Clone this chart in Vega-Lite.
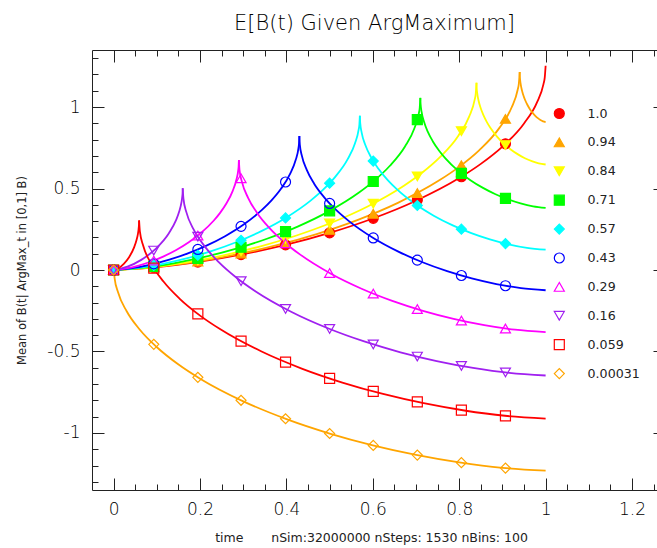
{
  "$schema": "https://vega.github.io/schema/vega-lite/v6.json",
  "width": 573,
  "height": 440,
  "autosize": "none",
  "padding": {"left": 92, "top": 50, "right": -8, "bottom": 58},
  "background": "white",
  "config": {"view": {"stroke": null}},
  "title": {"text": "E[B(t) Given ArgMaximum]", "font": "DejaVu Sans", "fontSize": 21, "fontWeight": 200, "color": "#000", "anchor": "middle", "frame": "group", "offset": 20, "baseline": "alphabetic", "dx": -4, "dy": 22},
  "datasets": {
    "lines": [
      {"s":"1.0","g":"1.0a","t":0,"v":0},{"s":"1.0","g":"1.0a","t":0.1,"v":0.0174},{"s":"1.0","g":"1.0a","t":0.2,"v":0.0508},{"s":"1.0","g":"1.0a","t":0.3,"v":0.0968},{"s":"1.0","g":"1.0a","t":0.4,"v":0.1554},{"s":"1.0","g":"1.0a","t":0.5,"v":0.2277},{"s":"1.0","g":"1.0a","t":0.6,"v":0.3161},{"s":"1.0","g":"1.0a","t":0.7,"v":0.4252},{"s":"1.0","g":"1.0a","t":0.8,"v":0.5642},{"s":"1.0","g":"1.0a","t":0.85,"v":0.6511},{"s":"1.0","g":"1.0a","t":0.9,"v":0.7572},{"s":"1.0","g":"1.0a","t":0.95,"v":0.8995},{"s":"1.0","g":"1.0a","t":0.98,"v":1.0284},{"s":"1.0","g":"1.0a","t":0.995,"v":1.1406},{"s":"1.0","g":"1.0a","t":0.998,"v":1.182},{"s":"1.0","g":"1.0a","t":1,"v":1.2533},
      {"s":"0.94","g":"0.94a","t":0,"v":0},{"s":"0.94","g":"0.94a","t":0.094,"v":0.0168},{"s":"0.94","g":"0.94a","t":0.188,"v":0.0492},{"s":"0.94","g":"0.94a","t":0.282,"v":0.0939},{"s":"0.94","g":"0.94a","t":0.376,"v":0.1507},{"s":"0.94","g":"0.94a","t":0.47,"v":0.2208},{"s":"0.94","g":"0.94a","t":0.564,"v":0.3065},{"s":"0.94","g":"0.94a","t":0.658,"v":0.4122},{"s":"0.94","g":"0.94a","t":0.752,"v":0.547},{"s":"0.94","g":"0.94a","t":0.799,"v":0.6313},{"s":"0.94","g":"0.94a","t":0.846,"v":0.7342},{"s":"0.94","g":"0.94a","t":0.893,"v":0.8721},{"s":"0.94","g":"0.94a","t":0.9212,"v":0.9971},{"s":"0.94","g":"0.94a","t":0.9353,"v":1.1058},{"s":"0.94","g":"0.94a","t":0.9381,"v":1.146},{"s":"0.94","g":"0.94a","t":0.94,"v":1.2151},
      {"s":"0.94","g":"0.94b","t":0.94,"v":1.2151},{"s":"0.94","g":"0.94b","t":0.9401,"v":1.1977},{"s":"0.94","g":"0.94b","t":0.9406,"v":1.1761},{"s":"0.94","g":"0.94b","t":0.9418,"v":1.1478},{"s":"0.94","g":"0.94b","t":0.9436,"v":1.1203},{"s":"0.94","g":"0.94b","t":0.946,"v":1.0936},{"s":"0.94","g":"0.94b","t":0.949,"v":1.0676},{"s":"0.94","g":"0.94b","t":0.952,"v":1.0463},{"s":"0.94","g":"0.94b","t":0.958,"v":1.0123},{"s":"0.94","g":"0.94b","t":0.964,"v":0.9856},{"s":"0.94","g":"0.94b","t":0.97,"v":0.9639},{"s":"0.94","g":"0.94b","t":0.976,"v":0.9462},{"s":"0.94","g":"0.94b","t":0.982,"v":0.9319},{"s":"0.94","g":"0.94b","t":0.988,"v":0.9206},{"s":"0.94","g":"0.94b","t":0.994,"v":0.9124},{"s":"0.94","g":"0.94b","t":1,"v":0.9081},
      {"s":"0.84","g":"0.84a","t":0,"v":0},{"s":"0.84","g":"0.84a","t":0.084,"v":0.0159},{"s":"0.84","g":"0.84a","t":0.168,"v":0.0465},{"s":"0.84","g":"0.84a","t":0.252,"v":0.0888},{"s":"0.84","g":"0.84a","t":0.336,"v":0.1425},{"s":"0.84","g":"0.84a","t":0.42,"v":0.2087},{"s":"0.84","g":"0.84a","t":0.504,"v":0.2897},{"s":"0.84","g":"0.84a","t":0.588,"v":0.3897},{"s":"0.84","g":"0.84a","t":0.672,"v":0.5171},{"s":"0.84","g":"0.84a","t":0.714,"v":0.5967},{"s":"0.84","g":"0.84a","t":0.756,"v":0.694},{"s":"0.84","g":"0.84a","t":0.798,"v":0.8244},{"s":"0.84","g":"0.84a","t":0.8232,"v":0.9425},{"s":"0.84","g":"0.84a","t":0.8358,"v":1.0453},{"s":"0.84","g":"0.84a","t":0.8383,"v":1.0833},{"s":"0.84","g":"0.84a","t":0.84,"v":1.1487},
      {"s":"0.84","g":"0.84b","t":0.84,"v":1.1487},{"s":"0.84","g":"0.84b","t":0.8403,"v":1.1201},{"s":"0.84","g":"0.84b","t":0.8416,"v":1.085},{"s":"0.84","g":"0.84b","t":0.8448,"v":1.0387},{"s":"0.84","g":"0.84b","t":0.8496,"v":0.9939},{"s":"0.84","g":"0.84b","t":0.856,"v":0.9502},{"s":"0.84","g":"0.84b","t":0.864,"v":0.9078},{"s":"0.84","g":"0.84b","t":0.872,"v":0.873},{"s":"0.84","g":"0.84b","t":0.888,"v":0.8174},{"s":"0.84","g":"0.84b","t":0.904,"v":0.7738},{"s":"0.84","g":"0.84b","t":0.92,"v":0.7384},{"s":"0.84","g":"0.84b","t":0.936,"v":0.7095},{"s":"0.84","g":"0.84b","t":0.952,"v":0.6861},{"s":"0.84","g":"0.84b","t":0.968,"v":0.6677},{"s":"0.84","g":"0.84b","t":0.984,"v":0.6543},{"s":"0.84","g":"0.84b","t":1,"v":0.6473},
      {"s":"0.71","g":"0.71a","t":0,"v":0},{"s":"0.71","g":"0.71a","t":0.071,"v":0.0146},{"s":"0.71","g":"0.71a","t":0.142,"v":0.0428},{"s":"0.71","g":"0.71a","t":0.213,"v":0.0816},{"s":"0.71","g":"0.71a","t":0.284,"v":0.131},{"s":"0.71","g":"0.71a","t":0.355,"v":0.1919},{"s":"0.71","g":"0.71a","t":0.426,"v":0.2664},{"s":"0.71","g":"0.71a","t":0.497,"v":0.3583},{"s":"0.71","g":"0.71a","t":0.568,"v":0.4754},{"s":"0.71","g":"0.71a","t":0.6035,"v":0.5486},{"s":"0.71","g":"0.71a","t":0.639,"v":0.6381},{"s":"0.71","g":"0.71a","t":0.6745,"v":0.7579},{"s":"0.71","g":"0.71a","t":0.6958,"v":0.8665},{"s":"0.71","g":"0.71a","t":0.7065,"v":0.9611},{"s":"0.71","g":"0.71a","t":0.7086,"v":0.9959},{"s":"0.71","g":"0.71a","t":0.71,"v":1.0561},
      {"s":"0.71","g":"0.71b","t":0.71,"v":1.0561},{"s":"0.71","g":"0.71b","t":0.7106,"v":1.0176},{"s":"0.71","g":"0.71b","t":0.7129,"v":0.9703},{"s":"0.71","g":"0.71b","t":0.7187,"v":0.908},{"s":"0.71","g":"0.71b","t":0.7274,"v":0.8477},{"s":"0.71","g":"0.71b","t":0.739,"v":0.7889},{"s":"0.71","g":"0.71b","t":0.7535,"v":0.7318},{"s":"0.71","g":"0.71b","t":0.768,"v":0.685},{"s":"0.71","g":"0.71b","t":0.797,"v":0.6101},{"s":"0.71","g":"0.71b","t":0.826,"v":0.5514},{"s":"0.71","g":"0.71b","t":0.855,"v":0.5038},{"s":"0.71","g":"0.71b","t":0.884,"v":0.4648},{"s":"0.71","g":"0.71b","t":0.913,"v":0.4333},{"s":"0.71","g":"0.71b","t":0.942,"v":0.4085},{"s":"0.71","g":"0.71b","t":0.971,"v":0.3905},{"s":"0.71","g":"0.71b","t":1,"v":0.3811},
      {"s":"0.57","g":"0.57a","t":0,"v":0},{"s":"0.57","g":"0.57a","t":0.057,"v":0.0131},{"s":"0.57","g":"0.57a","t":0.114,"v":0.0383},{"s":"0.57","g":"0.57a","t":0.171,"v":0.0731},{"s":"0.57","g":"0.57a","t":0.228,"v":0.1174},{"s":"0.57","g":"0.57a","t":0.285,"v":0.1719},{"s":"0.57","g":"0.57a","t":0.342,"v":0.2387},{"s":"0.57","g":"0.57a","t":0.399,"v":0.321},{"s":"0.57","g":"0.57a","t":0.456,"v":0.426},{"s":"0.57","g":"0.57a","t":0.4845,"v":0.4916},{"s":"0.57","g":"0.57a","t":0.513,"v":0.5717},{"s":"0.57","g":"0.57a","t":0.5415,"v":0.6791},{"s":"0.57","g":"0.57a","t":0.5586,"v":0.7764},{"s":"0.57","g":"0.57a","t":0.5672,"v":0.8611},{"s":"0.57","g":"0.57a","t":0.5689,"v":0.8924},{"s":"0.57","g":"0.57a","t":0.57,"v":0.9462},
      {"s":"0.57","g":"0.57b","t":0.57,"v":0.9462},{"s":"0.57","g":"0.57b","t":0.5709,"v":0.8994},{"s":"0.57","g":"0.57b","t":0.5743,"v":0.8418},{"s":"0.57","g":"0.57b","t":0.5829,"v":0.7659},{"s":"0.57","g":"0.57b","t":0.5958,"v":0.6925},{"s":"0.57","g":"0.57b","t":0.613,"v":0.6209},{"s":"0.57","g":"0.57b","t":0.6345,"v":0.5513},{"s":"0.57","g":"0.57b","t":0.656,"v":0.4944},{"s":"0.57","g":"0.57b","t":0.699,"v":0.4032},{"s":"0.57","g":"0.57b","t":0.742,"v":0.3317},{"s":"0.57","g":"0.57b","t":0.785,"v":0.2737},{"s":"0.57","g":"0.57b","t":0.828,"v":0.2263},{"s":"0.57","g":"0.57b","t":0.871,"v":0.1879},{"s":"0.57","g":"0.57b","t":0.914,"v":0.1577},{"s":"0.57","g":"0.57b","t":0.957,"v":0.1358},{"s":"0.57","g":"0.57b","t":1,"v":0.1244},
      {"s":"0.43","g":"0.43a","t":0,"v":0},{"s":"0.43","g":"0.43a","t":0.043,"v":0.0114},{"s":"0.43","g":"0.43a","t":0.086,"v":0.0333},{"s":"0.43","g":"0.43a","t":0.129,"v":0.0635},{"s":"0.43","g":"0.43a","t":0.172,"v":0.1019},{"s":"0.43","g":"0.43a","t":0.215,"v":0.1493},{"s":"0.43","g":"0.43a","t":0.258,"v":0.2073},{"s":"0.43","g":"0.43a","t":0.301,"v":0.2788},{"s":"0.43","g":"0.43a","t":0.344,"v":0.37},{"s":"0.43","g":"0.43a","t":0.3655,"v":0.427},{"s":"0.43","g":"0.43a","t":0.387,"v":0.4965},{"s":"0.43","g":"0.43a","t":0.4085,"v":0.5898},{"s":"0.43","g":"0.43a","t":0.4214,"v":0.6744},{"s":"0.43","g":"0.43a","t":0.4279,"v":0.7479},{"s":"0.43","g":"0.43a","t":0.4291,"v":0.7751},{"s":"0.43","g":"0.43a","t":0.43,"v":0.8219},
      {"s":"0.43","g":"0.43b","t":0.43,"v":0.8219},{"s":"0.43","g":"0.43b","t":0.4311,"v":0.768},{"s":"0.43","g":"0.43b","t":0.4357,"v":0.7016},{"s":"0.43","g":"0.43b","t":0.4471,"v":0.6142},{"s":"0.43","g":"0.43b","t":0.4642,"v":0.5297},{"s":"0.43","g":"0.43b","t":0.487,"v":0.4473},{"s":"0.43","g":"0.43b","t":0.5155,"v":0.3672},{"s":"0.43","g":"0.43b","t":0.544,"v":0.3016},{"s":"0.43","g":"0.43b","t":0.601,"v":0.1966},{"s":"0.43","g":"0.43b","t":0.658,"v":0.1143},{"s":"0.43","g":"0.43b","t":0.715,"v":0.0475},{"s":"0.43","g":"0.43b","t":0.772,"v":-0.007},{"s":"0.43","g":"0.43b","t":0.829,"v":-0.0513},{"s":"0.43","g":"0.43b","t":0.886,"v":-0.086},{"s":"0.43","g":"0.43b","t":0.943,"v":-0.1113},{"s":"0.43","g":"0.43b","t":1,"v":-0.1244},
      {"s":"0.29","g":"0.29a","t":0,"v":0},{"s":"0.29","g":"0.29a","t":0.029,"v":0.0093},{"s":"0.29","g":"0.29a","t":0.058,"v":0.0273},{"s":"0.29","g":"0.29a","t":0.087,"v":0.0522},{"s":"0.29","g":"0.29a","t":0.116,"v":0.0837},{"s":"0.29","g":"0.29a","t":0.145,"v":0.1226},{"s":"0.29","g":"0.29a","t":0.174,"v":0.1702},{"s":"0.29","g":"0.29a","t":0.203,"v":0.229},{"s":"0.29","g":"0.29a","t":0.232,"v":0.3038},{"s":"0.29","g":"0.29a","t":0.2465,"v":0.3506},{"s":"0.29","g":"0.29a","t":0.261,"v":0.4078},{"s":"0.29","g":"0.29a","t":0.2755,"v":0.4844},{"s":"0.29","g":"0.29a","t":0.2842,"v":0.5538},{"s":"0.29","g":"0.29a","t":0.2886,"v":0.6142},{"s":"0.29","g":"0.29a","t":0.2894,"v":0.6365},{"s":"0.29","g":"0.29a","t":0.29,"v":0.6749},
      {"s":"0.29","g":"0.29b","t":0.29,"v":0.6749},{"s":"0.29","g":"0.29b","t":0.2914,"v":0.6148},{"s":"0.29","g":"0.29b","t":0.2971,"v":0.5407},{"s":"0.29","g":"0.29b","t":0.3113,"v":0.4432},{"s":"0.29","g":"0.29b","t":0.3326,"v":0.3489},{"s":"0.29","g":"0.29b","t":0.361,"v":0.2569},{"s":"0.29","g":"0.29b","t":0.3965,"v":0.1675},{"s":"0.29","g":"0.29b","t":0.432,"v":0.0943},{"s":"0.29","g":"0.29b","t":0.503,"v":-0.0229},{"s":"0.29","g":"0.29b","t":0.574,"v":-0.1148},{"s":"0.29","g":"0.29b","t":0.645,"v":-0.1893},{"s":"0.29","g":"0.29b","t":0.716,"v":-0.2502},{"s":"0.29","g":"0.29b","t":0.787,"v":-0.2995},{"s":"0.29","g":"0.29b","t":0.858,"v":-0.3383},{"s":"0.29","g":"0.29b","t":0.929,"v":-0.3665},{"s":"0.29","g":"0.29b","t":1,"v":-0.3811},
      {"s":"0.16","g":"0.16a","t":0,"v":0},{"s":"0.16","g":"0.16a","t":0.032,"v":0.0203},{"s":"0.16","g":"0.16a","t":0.064,"v":0.0622},{"s":"0.16","g":"0.16a","t":0.096,"v":0.1264},{"s":"0.16","g":"0.16a","t":0.128,"v":0.2257},{"s":"0.16","g":"0.16a","t":0.144,"v":0.3029},{"s":"0.16","g":"0.16a","t":0.152,"v":0.3598},{"s":"0.16","g":"0.16a","t":0.1568,"v":0.4114},{"s":"0.16","g":"0.16a","t":0.1592,"v":0.4562},{"s":"0.16","g":"0.16a","t":0.1597,"v":0.4728},{"s":"0.16","g":"0.16a","t":0.16,"v":0.5013},
      {"s":"0.16","g":"0.16b","t":0.16,"v":0.5013},{"s":"0.16","g":"0.16b","t":0.1617,"v":0.4359},{"s":"0.16","g":"0.16b","t":0.1684,"v":0.3553},{"s":"0.16","g":"0.16b","t":0.1852,"v":0.2493},{"s":"0.16","g":"0.16b","t":0.2104,"v":0.1467},{"s":"0.16","g":"0.16b","t":0.244,"v":0.0467},{"s":"0.16","g":"0.16b","t":0.286,"v":-0.0506},{"s":"0.16","g":"0.16b","t":0.328,"v":-0.1302},{"s":"0.16","g":"0.16b","t":0.412,"v":-0.2577},{"s":"0.16","g":"0.16b","t":0.496,"v":-0.3576},{"s":"0.16","g":"0.16b","t":0.58,"v":-0.4386},{"s":"0.16","g":"0.16b","t":0.664,"v":-0.5049},{"s":"0.16","g":"0.16b","t":0.748,"v":-0.5586},{"s":"0.16","g":"0.16b","t":0.832,"v":-0.6008},{"s":"0.16","g":"0.16b","t":0.916,"v":-0.6314},{"s":"0.16","g":"0.16b","t":1,"v":-0.6473},
      {"s":"0.059","g":"0.059a","t":0,"v":0},{"s":"0.059","g":"0.059a","t":0.0118,"v":0.0123},{"s":"0.059","g":"0.059a","t":0.0236,"v":0.0378},{"s":"0.059","g":"0.059a","t":0.0354,"v":0.0768},{"s":"0.059","g":"0.059a","t":0.0472,"v":0.137},{"s":"0.059","g":"0.059a","t":0.0531,"v":0.1839},{"s":"0.059","g":"0.059a","t":0.0561,"v":0.2185},{"s":"0.059","g":"0.059a","t":0.0578,"v":0.2498},{"s":"0.059","g":"0.059a","t":0.0587,"v":0.277},{"s":"0.059","g":"0.059a","t":0.0589,"v":0.2871},{"s":"0.059","g":"0.059a","t":0.059,"v":0.3044},
      {"s":"0.059","g":"0.059b","t":0.059,"v":0.3044},{"s":"0.059","g":"0.059b","t":0.0609,"v":0.2352},{"s":"0.059","g":"0.059b","t":0.0684,"v":0.1499},{"s":"0.059","g":"0.059b","t":0.0872,"v":0.0377},{"s":"0.059","g":"0.059b","t":0.1155,"v":-0.0709},{"s":"0.059","g":"0.059b","t":0.1531,"v":-0.1768},{"s":"0.059","g":"0.059b","t":0.2002,"v":-0.2798},{"s":"0.059","g":"0.059b","t":0.2472,"v":-0.364},{"s":"0.059","g":"0.059b","t":0.3413,"v":-0.4989},{"s":"0.059","g":"0.059b","t":0.4354,"v":-0.6047},{"s":"0.059","g":"0.059b","t":0.5295,"v":-0.6905},{"s":"0.059","g":"0.059b","t":0.6236,"v":-0.7606},{"s":"0.059","g":"0.059b","t":0.7177,"v":-0.8174},{"s":"0.059","g":"0.059b","t":0.8118,"v":-0.8621},{"s":"0.059","g":"0.059b","t":0.9059,"v":-0.8945},{"s":"0.059","g":"0.059b","t":1,"v":-0.9114},
      {"s":"0.00031","g":"0.00031a","t":0,"v":0},{"s":"0.00031","g":"0.00031a","t":0.00031,"v":0.0221},
      {"s":"0.00031","g":"0.00031b","t":0.00031,"v":0.0221},{"s":"0.00031","g":"0.00031b","t":0.0023,"v":-0.0493},{"s":"0.00031","g":"0.00031b","t":0.0103,"v":-0.1372},{"s":"0.00031","g":"0.00031b","t":0.0303,"v":-0.2529},{"s":"0.00031","g":"0.00031b","t":0.0603,"v":-0.3648},{"s":"0.00031","g":"0.00031b","t":0.1003,"v":-0.4739},{"s":"0.00031","g":"0.00031b","t":0.1503,"v":-0.5801},{"s":"0.00031","g":"0.00031b","t":0.2002,"v":-0.6669},{"s":"0.00031","g":"0.00031b","t":0.3002,"v":-0.8059},{"s":"0.00031","g":"0.00031b","t":0.4002,"v":-0.915},{"s":"0.00031","g":"0.00031b","t":0.5002,"v":-1.0034},{"s":"0.00031","g":"0.00031b","t":0.6001,"v":-1.0756},{"s":"0.00031","g":"0.00031b","t":0.7001,"v":-1.1342},{"s":"0.00031","g":"0.00031b","t":0.8001,"v":-1.1803},{"s":"0.00031","g":"0.00031b","t":0.9,"v":-1.2137},{"s":"0.00031","g":"0.00031b","t":1,"v":-1.2311}
    ],
    "pts": [
      {"s":"1.0","t":0,"v":0},{"s":"1.0","t":0.093,"v":0.0155},{"s":"1.0","t":0.195,"v":0.0488},{"s":"1.0","t":0.295,"v":0.0943},{"s":"1.0","t":0.398,"v":0.1541},{"s":"1.0","t":0.5,"v":0.2277},{"s":"1.0","t":0.601,"v":0.3171},{"s":"1.0","t":0.703,"v":0.4289},{"s":"1.0","t":0.805,"v":0.5723},{"s":"1.0","t":0.907,"v":0.7743},
      {"s":"0.94","t":0,"v":0},{"s":"0.94","t":0.093,"v":0.0166},{"s":"0.94","t":0.195,"v":0.0522},{"s":"0.94","t":0.295,"v":0.101},{"s":"0.94","t":0.398,"v":0.1659},{"s":"0.94","t":0.5,"v":0.2463},{"s":"0.94","t":0.601,"v":0.3454},{"s":"0.94","t":0.703,"v":0.4723},{"s":"0.94","t":0.805,"v":0.6432},{"s":"0.94","t":0.907,"v":0.927},
      {"s":"0.84","t":0,"v":0},{"s":"0.84","t":0.093,"v":0.0186},{"s":"0.84","t":0.195,"v":0.0589},{"s":"0.84","t":0.295,"v":0.1148},{"s":"0.84","t":0.398,"v":0.19},{"s":"0.84","t":0.5,"v":0.2855},{"s":"0.84","t":0.601,"v":0.4073},{"s":"0.84","t":0.703,"v":0.5745},{"s":"0.84","t":0.805,"v":0.8522},{"s":"0.84","t":0.907,"v":0.7666},
      {"s":"0.71","t":0,"v":0},{"s":"0.71","t":0.093,"v":0.0221},{"s":"0.71","t":0.195,"v":0.0708},{"s":"0.71","t":0.295,"v":0.1396},{"s":"0.71","t":0.398,"v":0.2352},{"s":"0.71","t":0.5,"v":0.3626},{"s":"0.71","t":0.601,"v":0.543},{"s":"0.71","t":0.703,"v":0.9228},{"s":"0.71","t":0.805,"v":0.5926},{"s":"0.71","t":0.907,"v":0.4393},
      {"s":"0.57","t":0,"v":0},{"s":"0.57","t":0.093,"v":0.0279},{"s":"0.57","t":0.195,"v":0.0906},{"s":"0.57","t":0.295,"v":0.1827},{"s":"0.57","t":0.398,"v":0.3194},{"s":"0.57","t":0.5,"v":0.5328},{"s":"0.57","t":0.601,"v":0.6687},{"s":"0.57","t":0.703,"v":0.3958},{"s":"0.57","t":0.805,"v":0.2505},{"s":"0.57","t":0.907,"v":0.162},
      {"s":"0.43","t":0,"v":0},{"s":"0.43","t":0.093,"v":0.0377},{"s":"0.43","t":0.195,"v":0.1261},{"s":"0.43","t":0.295,"v":0.2678},{"s":"0.43","t":0.398,"v":0.54},{"s":"0.43","t":0.5,"v":0.4085},{"s":"0.43","t":0.601,"v":0.1966},{"s":"0.43","t":0.703,"v":0.0605},{"s":"0.43","t":0.805,"v":-0.0338},{"s":"0.43","t":0.907,"v":-0.0965},
      {"s":"0.29","t":0,"v":0},{"s":"0.29","t":0.093,"v":0.0581},{"s":"0.29","t":0.195,"v":0.2114},{"s":"0.29","t":0.295,"v":0.5622},{"s":"0.29","t":0.398,"v":0.1641},{"s":"0.29","t":0.5,"v":-0.0185},{"s":"0.29","t":0.601,"v":-0.1449},{"s":"0.29","t":0.703,"v":-0.2399},{"s":"0.29","t":0.805,"v":-0.3104},{"s":"0.29","t":0.907,"v":-0.359},
      {"s":"0.16","t":0,"v":0},{"s":"0.16","t":0.093,"v":0.1193},{"s":"0.16","t":0.195,"v":0.2049},{"s":"0.16","t":0.295,"v":-0.0689},{"s":"0.16","t":0.398,"v":-0.2387},{"s":"0.16","t":0.5,"v":-0.3619},{"s":"0.16","t":0.601,"v":-0.4565},{"s":"0.16","t":0.703,"v":-0.5313},{"s":"0.16","t":0.805,"v":-0.5885},{"s":"0.16","t":0.907,"v":-0.6288},
      {"s":"0.059","t":0,"v":0},{"s":"0.059","t":0.093,"v":0.012},{"s":"0.059","t":0.195,"v":-0.2696},{"s":"0.059","t":0.295,"v":-0.437},{"s":"0.059","t":0.398,"v":-0.5654},{"s":"0.059","t":0.5,"v":-0.6654},{"s":"0.059","t":0.601,"v":-0.745},{"s":"0.059","t":0.703,"v":-0.8093},{"s":"0.059","t":0.805,"v":-0.8593},{"s":"0.059","t":0.907,"v":-0.8948},
      {"s":"0.00031","t":0,"v":0},{"s":"0.00031","t":0.093,"v":-0.4562},{"s":"0.00031","t":0.195,"v":-0.6585},{"s":"0.00031","t":0.295,"v":-0.7995},{"s":"0.00031","t":0.398,"v":-0.9129},{"s":"0.00031","t":0.5,"v":-1.0032},{"s":"0.00031","t":0.601,"v":-1.0762},{"s":"0.00031","t":0.703,"v":-1.1357},{"s":"0.00031","t":0.805,"v":-1.1822},{"s":"0.00031","t":0.907,"v":-1.2155}
    ]
  },
  "layer": [
    {
      "data": {"name": "lines"},
      "mark": {"type": "line", "interpolate": "monotone", "strokeWidth": 1.8},
      "encoding": {
        "x": {"field": "t", "type": "quantitative", "scale": {"domain": [-0.05, 1.2763], "nice": false, "zero": false},
          "axis": {"orient": "bottom", "values": [0,0.05,0.1,0.15,0.2,0.25,0.3,0.35,0.4,0.45,0.5,0.55,0.6,0.65,0.7,0.75,0.8,0.85,0.9,0.95,1,1.05,1.1,1.15,1.2,1.25],
            "grid": false, "tickSize": 0, "tickColor": "#222", "tickWidth": 1, "domainColor": "#222", "domainWidth": 1,
            "labelExpr": "abs(datum.value*5 - round(datum.value*5)) < 0.001 ? format(datum.value, '~g') : ''",
            "labelFont": "DejaVu Sans", "labelFontWeight": 200, "labelFontSize": 17, "labelColor": "#000", "labelPadding": 11, "labelOverlap": false, "labelFlush": false, "labelBound": false,
            "title": "time\u00a0\u00a0\u00a0\u00a0\u00a0\u00a0\u00a0nSim:32000000 nSteps: 1530 nBins: 100",
            "titleFont": "DejaVu Sans", "titleFontSize": 12.5, "titleFontWeight": "normal", "titleColor": "#222", "titleX": 279, "titleY": 47, "titleAlign": "center", "titleBaseline": "middle", "titleAnchor": null,
            "encoding": {"ticks": {"y2": {"condition": {"test": "abs(datum.value*5 - round(datum.value*5)) < 0.001", "value": -12}, "value": -6}}}}},
        "y": {"field": "v", "type": "quantitative", "scale": {"domain": [-1.35, 1.35], "nice": false, "zero": false},
          "axis": {"orient": "left", "values": [-1.3,-1.2,-1.1,-1,-0.9,-0.8,-0.7,-0.6,-0.5,-0.4,-0.3,-0.2,-0.1,0,0.1,0.2,0.3,0.4,0.5,0.6,0.7,0.8,0.9,1,1.1,1.2,1.3],
            "grid": false, "tickSize": 0, "tickColor": "#222", "tickWidth": 1, "domainColor": "#222", "domainWidth": 1,
            "labelExpr": "abs(datum.value*2 - round(datum.value*2)) < 0.001 ? (datum.value < 0 ? '-' + format(-datum.value, '~g') : format(datum.value, '~g')) : ''",
            "labelFont": "DejaVu Sans", "labelFontWeight": 200, "labelFontSize": 17, "labelColor": "#000", "labelPadding": 12, "labelOverlap": false, "labelFlush": false, "labelBound": false,
            "title": "Mean of B(t| ArgMax_t in [0,1] B)",
            "titleFont": "DejaVu Sans", "titleFontSize": 11.5, "titleFontWeight": "normal", "titleColor": "#222", "titleX": -70, "titleY": 220, "titleAngle": -90, "titleAlign": "center", "titleBaseline": "middle", "titleAnchor": null,
            "encoding": {"ticks": {"x2": {"condition": {"test": "abs(datum.value*2 - round(datum.value*2)) < 0.001", "value": 12}, "value": 6}}}}},
        "detail": {"field": "g", "type": "nominal"},
        "stroke": {"field": "s", "type": "nominal",
          "scale": {"domain": ["1.0","0.94","0.84","0.71","0.57","0.43","0.29","0.16","0.059","0.00031"],
                    "range": ["#ff0000","#ffa500","#ffff00","#00ff00","#00ffff","#0000ff","#ff00ff","#a020f0","#ff0000","#ffa500"]},
          "legend": {"title": null, "orient": "none", "legendX": 461, "legendY": 57, "padding": 0, "symbolSize": 100, "symbolStrokeWidth": 1.2, "labelFont": "DejaVu Sans", "labelFontSize": 12.6, "labelColor": "#222", "labelOffset": 22, "rowPadding": 14.9, "clipHeight": 13}}
      }
    },
    {
      "data": {"name": "pts"},
      "mark": {"type": "point", "size": 100, "strokeWidth": 1.2, "opacity": 1},
      "encoding": {
        "x": {"field": "t", "type": "quantitative",
          "axis": {"orient": "top", "values": [0,0.05,0.1,0.15,0.2,0.25,0.3,0.35,0.4,0.45,0.5,0.55,0.6,0.65,0.7,0.75,0.8,0.85,0.9,0.95,1,1.05,1.1,1.15,1.2,1.25],
            "grid": false, "labels": false, "title": null, "tickSize": 0, "tickColor": "#222", "tickWidth": 1, "domainColor": "#222", "domainWidth": 1,
            "encoding": {"ticks": {"y2": {"condition": {"test": "abs(datum.value*5 - round(datum.value*5)) < 0.001", "value": 12}, "value": 6}}}}},
        "y": {"field": "v", "type": "quantitative",
          "axis": {"orient": "right", "values": [-1.3,-1.2,-1.1,-1,-0.9,-0.8,-0.7,-0.6,-0.5,-0.4,-0.3,-0.2,-0.1,0,0.1,0.2,0.3,0.4,0.5,0.6,0.7,0.8,0.9,1,1.1,1.2,1.3],
            "grid": false, "labels": false, "title": null, "tickSize": 0, "tickColor": "#222", "tickWidth": 1, "domainColor": "#222", "domainWidth": 1,
            "encoding": {"ticks": {"x2": {"condition": {"test": "abs(datum.value*2 - round(datum.value*2)) < 0.001", "value": -12}, "value": -6}}}}},
        "shape": {"field": "s", "type": "nominal",
          "scale": {"domain": ["1.0","0.94","0.84","0.71","0.57","0.43","0.29","0.16","0.059","0.00031"],
                    "range": ["circle","triangle-up","triangle-down","square","diamond","circle","triangle-up","triangle-down","square","diamond"]},
          "legend": {"title": null, "orient": "none", "legendX": 461, "legendY": 57, "padding": 0, "symbolSize": 100, "symbolStrokeWidth": 1.2, "labelFont": "DejaVu Sans", "labelFontSize": 12.6, "labelColor": "#222", "labelOffset": 22, "rowPadding": 14.9, "clipHeight": 13}},
        "fill": {"field": "s", "type": "nominal",
          "scale": {"domain": ["1.0","0.94","0.84","0.71","0.57","0.43","0.29","0.16","0.059","0.00031"],
                    "range": ["#ff0000","#ffa500","#ffff00","#00ff00","#00ffff","transparent","transparent","transparent","transparent","transparent"]},
          "legend": {"title": null, "orient": "none", "legendX": 461, "legendY": 57, "padding": 0, "symbolSize": 100, "symbolStrokeWidth": 1.2, "labelFont": "DejaVu Sans", "labelFontSize": 12.6, "labelColor": "#222", "labelOffset": 22, "rowPadding": 14.9, "clipHeight": 13}},
        "stroke": {"field": "s", "type": "nominal",
          "legend": {"title": null, "orient": "none", "legendX": 461, "legendY": 57, "padding": 0, "symbolSize": 100, "symbolStrokeWidth": 1.2, "labelFont": "DejaVu Sans", "labelFontSize": 12.6, "labelColor": "#222", "labelOffset": 22, "rowPadding": 14.9, "clipHeight": 13}}
      }
    }
  ],
  "resolve": {"axis": {"x": "independent", "y": "independent"}}
}
